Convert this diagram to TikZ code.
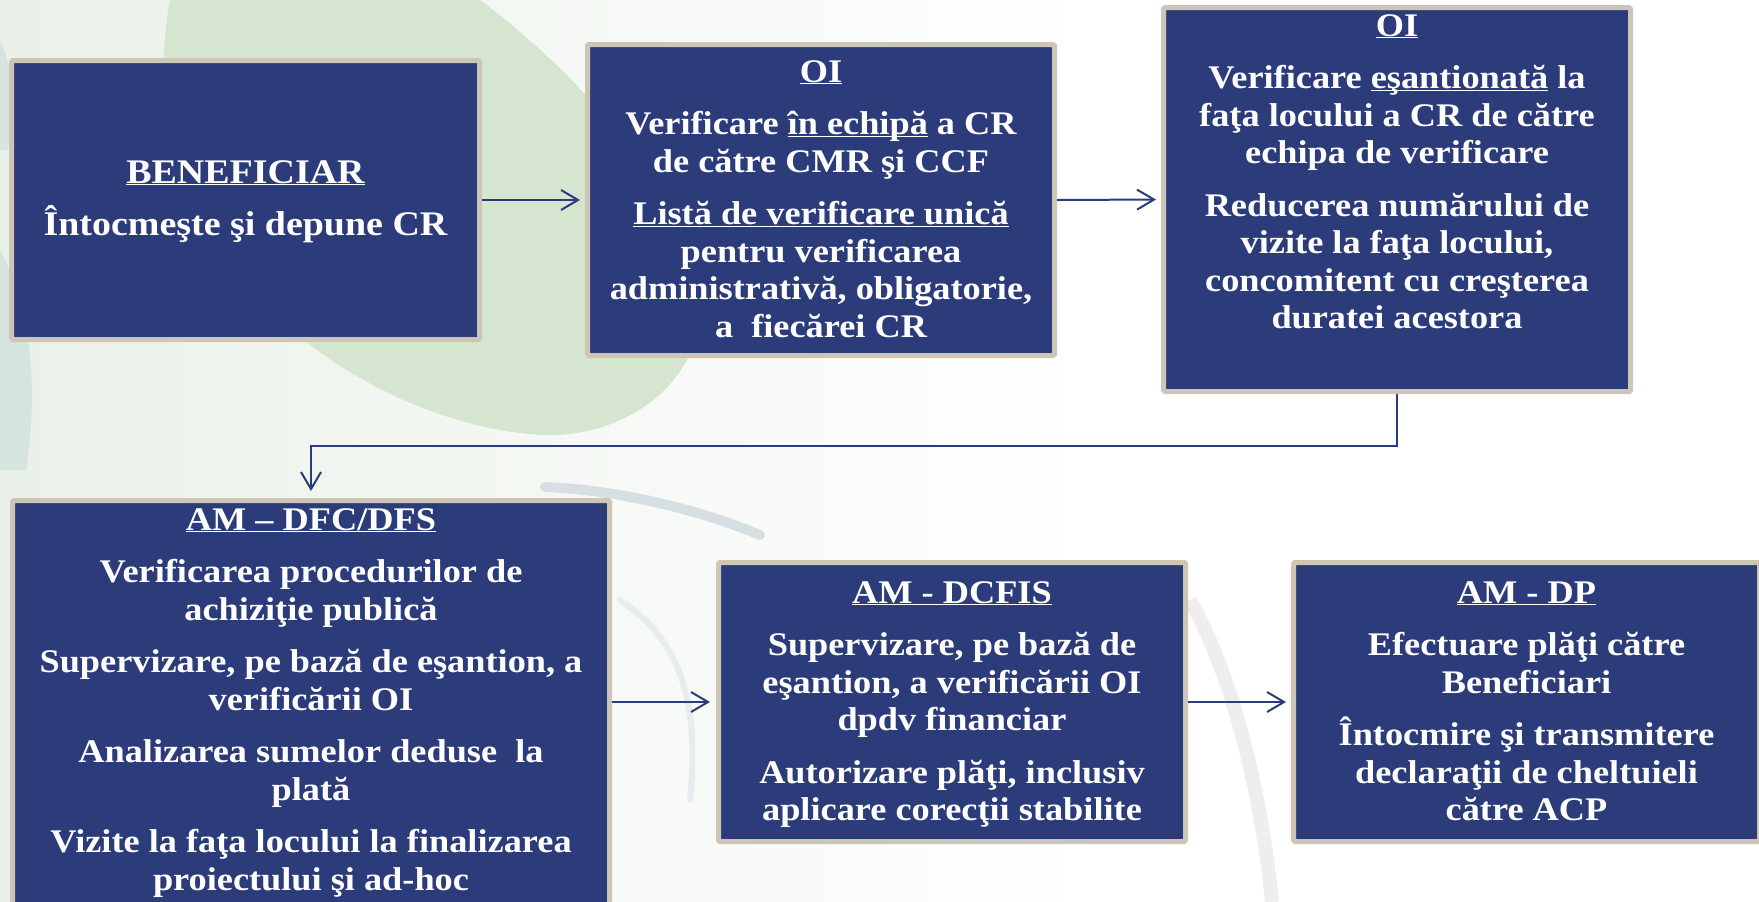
\documentclass[tikz,border=0pt]{standalone}
\usepackage{fontspec}
\setmainfont{Liberation Serif}[FakeStretch=1.1]
\usetikzlibrary{arrows.meta}
\definecolor{navy}{HTML}{2C3C7A}
\definecolor{rim}{HTML}{CDC6B7}
\definecolor{leaf}{HTML}{D6E5CF}
\definecolor{wash}{HTML}{EAF1E8}
\definecolor{streak}{HTML}{D6E4E0}
\definecolor{swirl}{HTML}{D6E0E3}
\definecolor{arcgrey}{HTML}{EEEEEE}
\newcommand{\ulfix}[1]{\underline{\vphantom{A}\smash{#1}}}
\newcommand{\topstrut}{\rule{0pt}{30pt}}
\tikzset{
  box/.style={rectangle, draw=rim, line width=5pt, fill=navy, rounded corners=1.5pt, inner sep=0pt},
  boxtext/.style={text=white, align=center, inner sep=0pt, anchor=north,
    font=\bfseries\fontsize{33}{37.5}\selectfont},
  flow/.style={draw=navy, line width=2pt, -{Straight Barb[length=17pt,width=20pt]}}
}
\begin{document}
\begin{tikzpicture}[x=1pt,y=-1pt]
\useasboundingbox (0,0) rectangle (1759,902);
\clip (0,0) rectangle (1759,902);
% background
\fill[white] (0,0) rectangle (1759,902);
\shade[left color=wash, right color=white] (0,0) rectangle (1100,902);
\fill[leaf] (170,0) -- (480,0) .. controls (560,60) and (650,150) .. (690,260)
  .. controls (730,360) and (640,440) .. (540,435)
  .. controls (400,425) and (250,330) .. (190,200)
  .. controls (160,130) and (160,50) .. (170,0) -- cycle;
\fill[streak] (0,250) .. controls (28,300) and (40,380) .. (26,470) -- (0,470) -- cycle;
\fill[streak] (0,40) .. controls (14,70) and (16,110) .. (8,150) -- (0,150) -- cycle;
\draw[swirl, line width=10pt, line cap=round] (545,487) .. controls (620,490) and (700,510) .. (760,535);
\draw[swirl!60!white, line width=6pt, line cap=round] (620,600) .. controls (680,640) and (700,700) .. (690,800);
\draw[arcgrey, line width=14pt] (1190,600) .. controls (1235,680) and (1262,800) .. (1272,902);

% boxes
\node[box, minimum width=468pt, minimum height=279pt] (b1) at (245.5,200) {};
\node[box, minimum width=467pt, minimum height=311pt] (b2) at (821,200) {};
\node[box, minimum width=467pt, minimum height=384pt] (b3) at (1397,199.5) {};
\node[box, minimum width=597pt, minimum height=432pt] (b4) at (311,716.5) {};
\node[box, minimum width=467pt, minimum height=279pt] (b5) at (952,702) {};
\node[box, minimum width=466pt, minimum height=279pt] (b6) at (1526.5,702) {};

% texts
\node[boxtext, font=\bfseries\fontsize{34.5}{52}\selectfont] (t1) at (245.5,153)
  {\topstrut\ulfix{BENEFICIAR}\\Întocmeşte şi depune CR};
\node[boxtext] (t2) at (821,52)
  {\topstrut\ulfix{OI}\\[15pt]
   Verificare \ulfix{în echipă} a CR\\
   de către CMR şi CCF\\[15pt]
   \ulfix{Listă de verificare unică}\\
   pentru verificarea\\
   administrativă, obligatorie,\\
   a~ fiecărei CR};
\node[boxtext] (t3) at (1397,6)
  {\topstrut\ulfix{OI}\\[15pt]
   Verificare \ulfix{eşantionată} la\\
   faţa locului a CR de către\\
   echipa de verificare\\[15pt]
   Reducerea numărului de\\
   vizite la faţa locului,\\
   concomitent cu creşterea\\
   duratei acestora};
\node[boxtext] (t4) at (311,500)
  {\topstrut\ulfix{AM – DFC/DFS}\\[15pt]
   Verificarea procedurilor de\\
   achiziţie publică\\[15pt]
   Supervizare, pe bază de eşantion, a\\
   verificării OI\\[15pt]
   Analizarea sumelor deduse~ la\\
   plată\\[15pt]
   Vizite la faţa locului la finalizarea\\
   proiectului şi ad-hoc};
\node[boxtext] (t5) at (952,573)
  {\topstrut\ulfix{AM - DCFIS}\\[15pt]
   Supervizare, pe bază de\\
   eşantion, a verificării OI\\
   dpdv financiar\\[15pt]
   Autorizare plăţi, inclusiv\\
   aplicare corecţii stabilite};
\node[boxtext] (t6) at (1526.5,573)
  {\topstrut\ulfix{AM - DP}\\[15pt]
   Efectuare plăţi către\\
   Beneficiari\\[15pt]
   Întocmire şi transmitere\\
   declaraţii de cheltuieli\\
   către ACP};

% connectors
\draw[flow, shorten >=5pt] (b1.east) -- (b2.west);
\draw[flow, shorten >=5pt] (b2.east) -- (b3.west);
\draw[flow, shorten >=7pt] (b3.south) -- ++(0,52) -| (b4.north);
\draw[flow, shorten >=6pt] (b4.east |- b5.west) -- (b5.west);
\draw[flow, shorten >=5pt] (b5.east) -- (b6.west);
\end{tikzpicture}
\end{document}
